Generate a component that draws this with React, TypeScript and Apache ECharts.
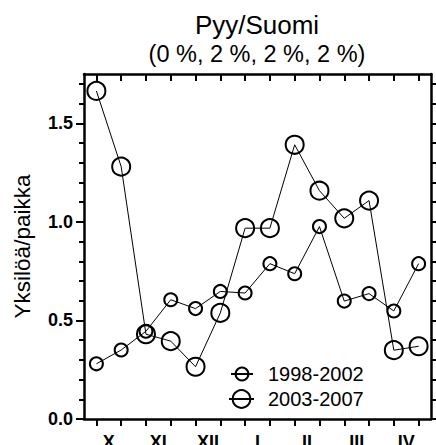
import React, { useEffect, useRef } from "react";
import * as echarts from "echarts";

const months = ["X", "XI", "XII", "I", "II", "III", "IV"];
const periods = ["1998-2002", "2003-2007"];
const values1998 = [0.28, 0.35, 0.445, 0.605, 0.56, 0.647, 0.639, 0.788, 0.737, 0.976, 0.598, 0.636, 0.548, 0.788];
const values2003 = [1.664, 1.28, 0.43, 0.395, 0.265, 0.538, 0.968, 0.968, 1.391, 1.158, 1.018, 1.108, 0.349, 0.369];
const yLabels = [0, 0.5, 1.0, 1.5];
const titleText = "Pyy/Suomi";
const subtitleText = "(0 %, 2 %, 2 %, 2 %)";
const yName = "Yksilöä/paikka";

const FONT = "'Liberation Sans', Arial, sans-serif";

export default function App() {
  const ref = useRef<HTMLDivElement>(null);
  useEffect(() => {
    if (!ref.current) return;
    const chart = echarts.init(ref.current, null, { renderer: "svg" });
    const halfIdx = values1998.map((_, i) => i);
    const monthPos = months.map((_, i) => i * 2 + 0.5);
    const minorYVals: number[] = [];
    for (let k = 0; k <= 17; k++) minorYVals.push(+(k / 10).toFixed(1));
    const black = "#000";
    const line = { show: true, onZero: false, lineStyle: { color: black, width: 2.5 } };
    const tickStyle = { color: black, width: 2 };
    const option: any = {
      animation: false,
      backgroundColor: "#fff",
      title: [
        {
          text: titleText,
          left: 257,
          top: 12,
          padding: 0,
          textAlign: "center",
          textStyle: { fontSize: 26, fontWeight: "normal", fontFamily: FONT, color: black },
        },
        {
          text: subtitleText,
          left: 257,
          top: 42,
          padding: 0,
          textAlign: "center",
          textStyle: { fontSize: 23.5, fontWeight: "normal", fontFamily: FONT, color: black },
        },
      ],
      legend: [
        {
          data: [periods[0]],
          left: 230,
          top: 364,
          padding: 0,
          itemWidth: 22,
          itemHeight: 16,
          textStyle: { fontSize: 20, fontFamily: FONT, color: black, padding: [0, 0, 0, 10] },
        },
        {
          data: [periods[1]],
          left: 228,
          top: 389,
          padding: 0,
          itemWidth: 25,
          itemHeight: 22,
          textStyle: { fontSize: 20, fontFamily: FONT, color: black, padding: [0, 0, 0, 9] },
        },
      ],
      grid: { left: 84, right: 5, top: 74, bottom: 26, containLabel: false, outerBoundsMode: "none" },
      xAxis: [
        {
          type: "value",
          min: -0.5,
          max: 13.5,
          position: "bottom",
          axisLine: line,
          axisTick: { show: true, customValues: halfIdx, length: 7, inside: false, lineStyle: tickStyle },
          axisLabel: {
            show: true,
            customValues: monthPos,
            margin: 14,
            fontSize: 18,
            fontWeight: "bold",
            fontFamily: FONT,
            color: black,
            formatter: (v: number) => months[Math.round((v - 0.5) / 2)] ?? "",
          },
          splitLine: { show: false },
        },
        {
          type: "value",
          min: -0.5,
          max: 13.5,
          position: "top",
          axisLine: line,
          axisTick: { show: true, customValues: halfIdx, length: 7, inside: true, lineStyle: tickStyle },
          axisLabel: { show: false },
          splitLine: { show: false },
        },
      ],
      yAxis: [
        {
          type: "value",
          min: 0,
          max: 1.75,
          position: "left",
          name: yName,
          nameLocation: "middle",
          nameRotate: 90,
          nameGap: 50,
          nameTextStyle: { fontSize: 22.5, fontFamily: FONT, color: black },
          axisLine: line,
          axisTick: { show: true, customValues: yLabels, length: 8, inside: false, lineStyle: tickStyle },
          axisLabel: {
            show: true,
            customValues: yLabels,
            margin: 11,
            fontSize: 18,
            fontWeight: "bold",
            fontFamily: FONT,
            color: black,
            formatter: (v: number) => v.toFixed(1),
          },
          splitLine: { show: false },
        },
        {
          type: "value",
          min: 0,
          max: 1.75,
          position: "right",
          axisLine: line,
          axisTick: { show: true, customValues: minorYVals, length: 6, inside: false, lineStyle: tickStyle },
          axisLabel: { show: false },
          splitLine: { show: false },
        },
        {
          type: "value",
          min: 0,
          max: 1.75,
          position: "left",
          axisLine: { show: false, onZero: false },
          axisTick: { show: true, customValues: minorYVals, length: 5, inside: false, lineStyle: tickStyle },
          axisLabel: { show: false },
          splitLine: { show: false },
        },
      ],
      series: [
        {
          name: periods[0],
          type: "line",
          xAxisIndex: 0,
          yAxisIndex: 0,
          data: values1998.map((v, i) => [halfIdx[i], v]),
          symbol: "circle",
          symbolSize: 13,
          showAllSymbol: true,
          lineStyle: { color: black, width: 1 },
          itemStyle: { color: "rgba(0,0,0,0)", borderColor: black, borderWidth: 2 },
          emphasis: { disabled: true },
        },
        {
          name: periods[1],
          type: "line",
          xAxisIndex: 0,
          yAxisIndex: 0,
          data: values2003.map((v, i) => [halfIdx[i], v]),
          symbol: "circle",
          symbolSize: 18,
          showAllSymbol: true,
          lineStyle: { color: black, width: 1 },
          itemStyle: { color: "rgba(0,0,0,0)", borderColor: black, borderWidth: 2 },
          emphasis: { disabled: true },
        },
      ],
    };
    chart.setOption(option);
    return () => chart.dispose();
  }, []);
  return (
    <div
      ref={ref}
      style={{ position: "fixed", left: 0, top: 0, width: 436, height: 445, background: "#fff" }}
    />
  );
}
